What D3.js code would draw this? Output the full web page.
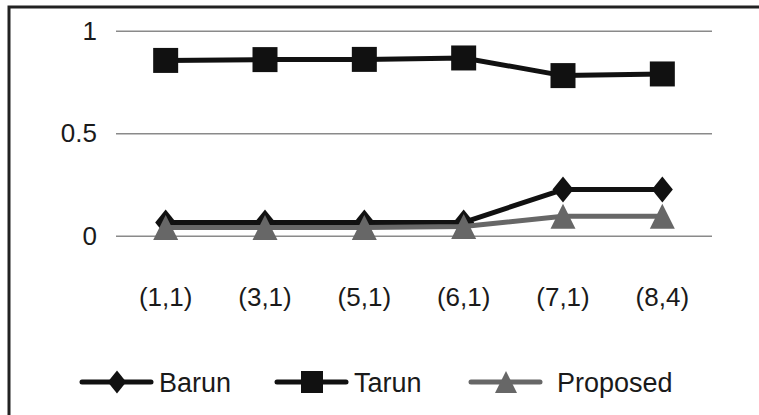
<!DOCTYPE html>
<html>
<head>
<meta charset="utf-8">
<script src="https://cdn.jsdelivr.net/npm/d3@7"></script>
<style>
  html, body { margin: 0; padding: 0; background: #fff; }
  svg { display: block; }
  text { font-family: "Liberation Sans", Arial, sans-serif; fill: #1a1a1a; }
</style>
</head>
<body>
<svg id="chart" width="759" height="415"></svg>
<script>
// ---- data ----
const categories = ["(1,1)", "(3,1)", "(5,1)", "(6,1)", "(7,1)", "(8,4)"];
const barun    = [0.065, 0.065, 0.065, 0.065, 0.225, 0.225];
const tarun    = [0.855, 0.859, 0.860, 0.867, 0.781, 0.789];
const proposed = [0.040, 0.040, 0.040, 0.045, 0.095, 0.095];
const yTicks = [0, 0.5, 1];
const yTickLabels = ["0", "0.5", "1"];
const seriesNames = ["Barun", "Tarun", "Proposed"];

const series = [
  { name: seriesNames[1], values: tarun,    color: "#111", marker: "square" },
  { name: seriesNames[0], values: barun,    color: "#111", marker: "diamond" },
  { name: seriesNames[2], values: proposed, color: "#676767", marker: "triangle" }
];

// ---- layout ----
const svg = d3.select("#chart");
const plot = { left: 116, right: 712, top: 30.7, bottom: 235.7 };

const x = d3.scaleBand().domain(categories).range([plot.left, plot.right]);
const y = d3.scaleLinear().domain([0, 1]).range([plot.bottom, plot.top]);
const cx = c => x(c) + x.bandwidth() / 2;

// frame (top and left edges visible)
svg.append("rect")
  .attr("x", 9).attr("y", 7)
  .attr("width", 800).attr("height", 500)
  .attr("fill", "none").attr("stroke", "#222").attr("stroke-width", 3);

// y axis + gridlines
const yAxis = svg.append("g")
  .attr("transform", `translate(${plot.left},0)`)
  .call(d3.axisLeft(y).tickValues(yTicks)
    .tickFormat((d, i) => yTickLabels[i])
    .tickSize(-(plot.right - plot.left)).tickPadding(19));
yAxis.select(".domain").remove();
yAxis.selectAll(".tick line").attr("stroke", "#8a8a8a").attr("stroke-width", 1.6);
yAxis.selectAll(".tick text").attr("font-size", 26).attr("fill", "#1a1a1a")
  .style("font-family", "'Liberation Sans', Arial, sans-serif");

// x axis labels
const xAxis = svg.append("g")
  .attr("transform", `translate(0,${plot.bottom})`)
  .call(d3.axisBottom(x).tickSize(0).tickPadding(52));
xAxis.select(".domain").remove();
xAxis.selectAll(".tick text").attr("font-size", 26).attr("fill", "#1a1a1a")
  .style("font-family", "'Liberation Sans', Arial, sans-serif");

// marker shapes
function markerPath(type, s) {
  if (type === "square") return `M${-s/2},${-s/2}h${s}v${s}h${-s}Z`;
  if (type === "diamond") { const w = s * 0.42, h = s * 0.52; return `M0,${-h}L${w},0L0,${h}L${-w},0Z`; }
  const h = s / 2; return `M0,${-h}L${h},${h}L${-h},${h}Z`;
}

const line = d3.line().x((d, i) => cx(categories[i])).y(d => y(d));

series.forEach(s => {
  const g = svg.append("g");
  g.append("path").attr("d", line(s.values))
    .attr("fill", "none").attr("stroke", s.color).attr("stroke-width", 5)
    .attr("stroke-linejoin", "round");
  g.selectAll("path.m").data(s.values).enter().append("path").attr("class", "m")
    .attr("d", markerPath(s.marker, 25))
    .attr("transform", (d, i) => `translate(${cx(categories[i])},${y(d)})`)
    .attr("fill", s.color);
});

// legend
const legendItems = [
  { name: seriesNames[0], color: "#111", marker: "diamond", x0: 82 },
  { name: seriesNames[1], color: "#111", marker: "square", x0: 277 },
  { name: seriesNames[2], color: "#676767", marker: "triangle", x0: 471 }
];
const ly = 382;
legendItems.forEach(it => {
  const g = svg.append("g").attr("transform", `translate(${it.x0},${ly})`);
  g.append("line").attr("x1", 0).attr("x2", 69).attr("y1", 0).attr("y2", 0)
    .attr("stroke", it.color).attr("stroke-width", 5).attr("stroke-linecap", "round");
  g.append("path").attr("d", markerPath(it.marker, 22))
    .attr("transform", "translate(35,0)").attr("fill", it.color);
  g.append("text").attr("x", it.marker === "triangle" ? 86 : 77).attr("y", 9.5)
    .attr("font-size", 27).text(it.name);
});
</script>
</body>
</html>
